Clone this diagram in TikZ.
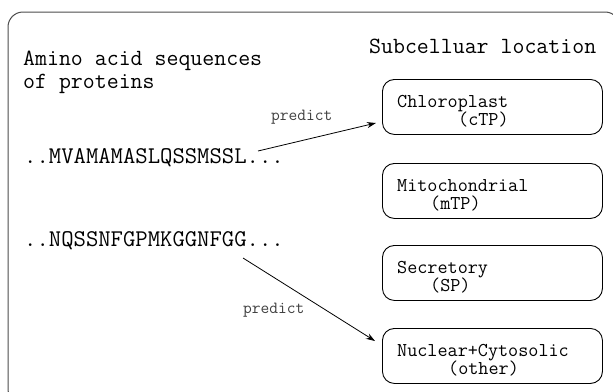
\documentclass[tikz,border=0pt]{standalone}
\usetikzlibrary{arrows.meta}
\begin{document}
\begin{tikzpicture}[x=1pt,y=-1pt,
  frame/.style={draw=black!70, line width=1pt, rounded corners=15pt},
  loc/.style={draw=black, rounded corners=12pt, line width=0.9pt, minimum width=220pt, minimum height=55pt, anchor=north west, inner sep=0pt},
  lbl/.style={anchor=base west, inner sep=0pt, font=\ttfamily\fontsize{19.6}{17}\selectfont},
  hdr/.style={anchor=base west, inner sep=0pt, font=\ttfamily\fontsize{23.2}{21}\selectfont},
  seq/.style={anchor=base west, inner sep=0pt, font=\ttfamily\fontsize{24}{24}\selectfont},
  pred/.style={anchor=base west, inner sep=0pt, font=\ttfamily\fontsize{17}{17}\selectfont, text=black!75},
  arr/.style={-{Stealth[length=9pt,width=6pt]}, line width=0.8pt}]
\useasboundingbox (0,0) rectangle (613,391);
\begin{scope}
\clip (0,0) rectangle (613,391);
\draw[frame] (8,12) rectangle (620,404);
\end{scope}
% headers
\node[hdr] (h1) at (23,65) {Amino acid sequences};
\node[hdr] (h2) at (23,88) {of proteins};
\node[hdr] (h3) at (369,53) {Subcelluar location};
% sequences
\node[seq] (s1) at (24,163) {..MVAMAMASLQSSMSSL...};
\node[seq] (s2) at (24,246) {..NQSSNFGPMKGGNFGG...};
% location boxes
\node[loc] (b1) at (382,79) {};
\node[loc] (b2) at (382,163) {};
\node[loc] (b3) at (382,245) {};
\node[loc] (b4) at (382,328) {};
\node[lbl] (t1a) at (397,107) {Chloroplast};
\node[lbl] (t1b) at (458,125) {(cTP)};
\node[lbl] (t2a) at (397,191) {Mitochondrial};
\node[lbl] (t2b) at (430,209) {(mTP)};
\node[lbl] (t3a) at (397,273) {Secretory};
\node[lbl] (t3b) at (430,291) {(SP)};
\node[lbl] (t4a) at (397,356) {Nuclear+Cytosolic};
\node[lbl] (t4b) at (448,374) {(other)};
% arrows
\coordinate (a1s) at (258,151);
\coordinate (a1e) at (376,123);
\coordinate (a2s) at (243,258);
\coordinate (a2e) at (375,341);
\draw[arr] (a1s) -- (a1e);
\draw[arr] (a2s) -- (a2e);
\node[pred] (p1) at (271,120) {predict};
\node[pred] (p2) at (243,313) {predict};
\end{tikzpicture}
\end{document}
